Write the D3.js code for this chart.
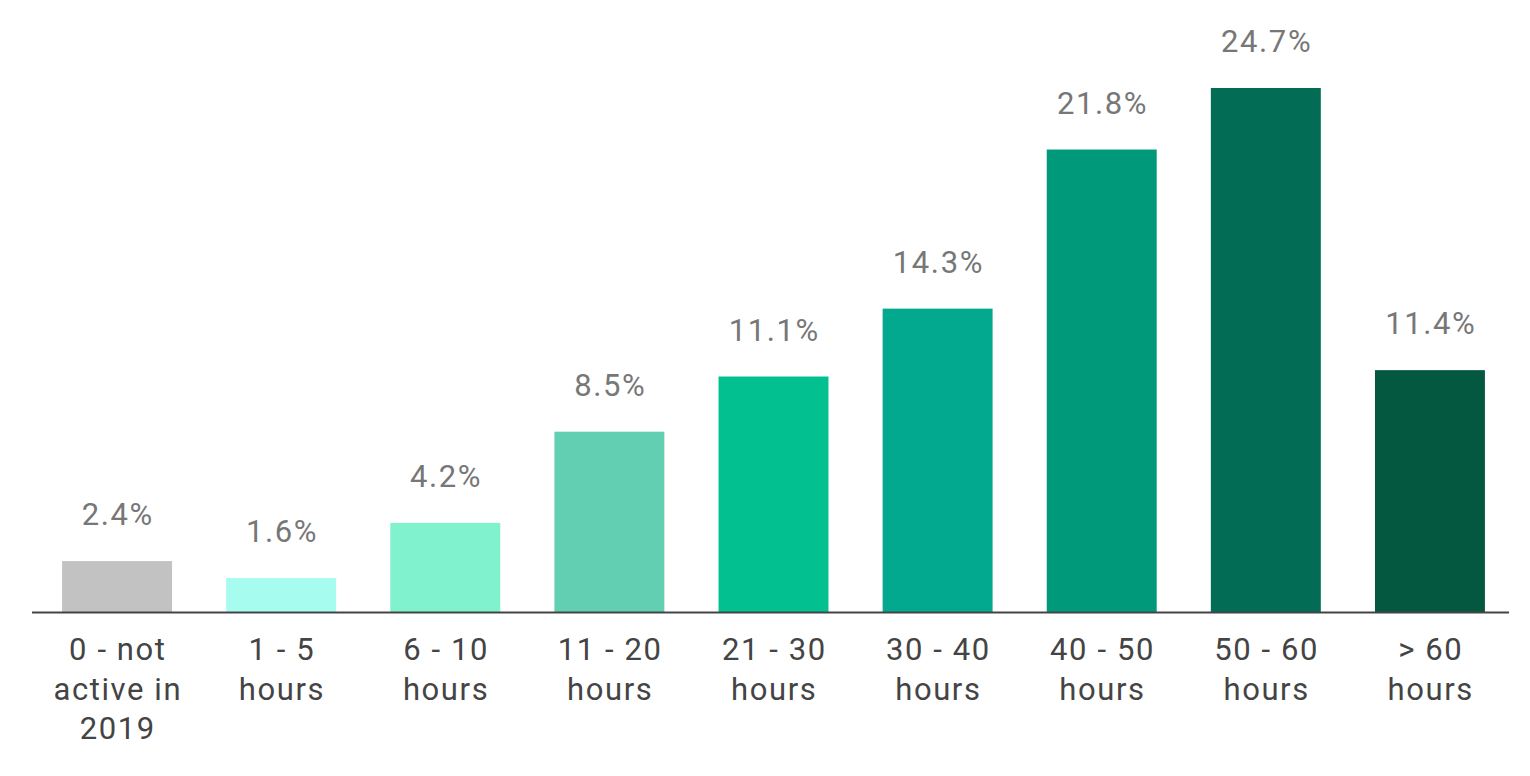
<!DOCTYPE html>
<html>
<head>
<meta charset="utf-8">
<script src="https://cdn.jsdelivr.net/npm/d3@7"></script>
<style>
  body { margin: 0; background: #fff; }
  svg { display: block; font-family: Roboto, "Noto Sans", sans-serif; }
</style>
</head>
<body>
<svg id="chart"></svg>
<script>
// data
var categories = [
    ["0 - not", "active in", "2019"],
    ["1 - 5", "hours"],
    ["6 - 10", "hours"],
    ["11 - 20", "hours"],
    ["21 - 30", "hours"],
    ["30 - 40", "hours"],
    ["40 - 50", "hours"],
    ["50 - 60", "hours"],
    ["> 60", "hours"]
];
var values = [2.4, 1.6, 4.2, 8.5, 11.1, 14.3, 21.8, 24.7, 11.4];
var colors = ["#c2c2c2", "#a6fcef", "#80f2cd", "#62cfb3", "#02c08f", "#02a98e", "#009a7a", "#026d54", "#03583f"];

var W = 1530, H = 776;
var baseY = 612;

var svg = d3.select("#chart").attr("width", W).attr("height", H);

var x = d3.scaleBand()
    .domain(d3.range(values.length))
    .range([35, 1512])
    .paddingInner(0.33)
    .paddingOuter(0.165);

var y = d3.scaleLinear()
    .domain([0, 24.7])
    .range([baseY, 88]);

svg.selectAll("rect.bar")
    .data(values)
    .enter().append("rect")
    .attr("class", "bar")
    .attr("x", function(d, i) { return x(i); })
    .attr("y", function(d) { return y(d); })
    .attr("width", x.bandwidth())
    .attr("height", function(d) { return baseY - y(d); })
    .attr("fill", function(d, i) { return colors[i]; });

svg.selectAll("text.val")
    .data(values)
    .enter().append("text")
    .attr("class", "val")
    .attr("x", function(d, i) { return x(i) + x.bandwidth() / 2 + 0.8; })
    .attr("y", function(d) { return y(d) - 36; })
    .attr("text-anchor", "middle")
    .attr("font-size", 31)
    .attr("letter-spacing", "1.6px")
    .attr("fill", "#777")
    .text(function(d) { return d.toFixed(1) + "%"; });

// baseline
svg.append("line")
    .attr("x1", 32).attr("x2", 1509)
    .attr("y1", baseY + 0.5).attr("y2", baseY + 0.5)
    .attr("stroke", "#444")
    .attr("stroke-width", 2);

var labels = svg.selectAll("text.cat")
    .data(categories)
    .enter().append("text")
    .attr("class", "cat")
    .attr("text-anchor", "middle")
    .attr("font-size", 31)
    .attr("letter-spacing", "1.6px")
    .attr("fill", "#444");

labels.selectAll("tspan")
    .data(function(d, i) { return d.map(function(s) { return { s: s, i: i }; }); })
    .enter().append("tspan")
    .attr("x", function(d) { return x(d.i) + x.bandwidth() / 2 + 0.8; })
    .attr("y", function(d, j) { return 660 + j * 39.5; })
    .text(function(d) { return d.s; });
</script>
</body>
</html>
